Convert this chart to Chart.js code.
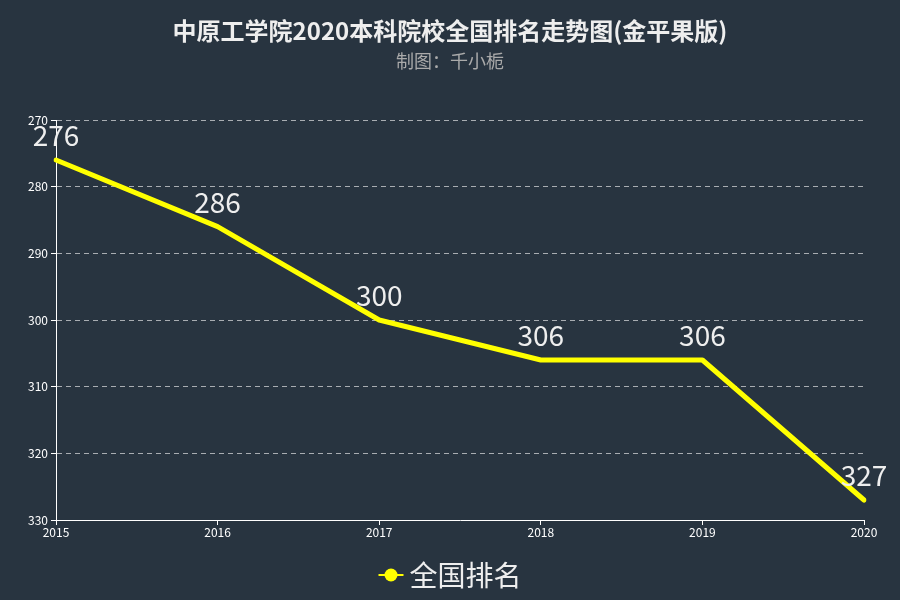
<!DOCTYPE html>
<html><head><meta charset="utf-8">
<script src="https://cdn.jsdelivr.net/npm/chart.js@4/dist/chart.umd.min.js"></script>
<style>html,body{margin:0;padding:0;background:#283440;}#wrap{width:900px;height:600px;}</style>
</head><body><div id="wrap"><canvas id="c" width="900" height="600"></canvas></div>
<script>
const titleText = '中原工学院2020本科院校全国排名走势图(金平果版)';
const subtitleText = '制图：千小栀';
const seriesName = '全国排名';
const years = ['2015','2016','2017','2018','2019','2020'];
const ranks = [276, 286, 300, 306, 306, 327];
const yMin = 270, yMax = 330, yStep = 10;

const FONT = '"Noto Sans CJK SC", "Noto Sans", sans-serif';
const BG = '#283440';
const YELLOW = '#ffff00';

const deco = {
  id: 'deco',
  beforeDraw(chart) {
    const ctx = chart.ctx;
    ctx.save();
    ctx.fillStyle = BG;
    ctx.fillRect(0, 0, chart.width, chart.height);
    ctx.restore();
  },
  afterDatasetsDraw(chart) {
    const ctx = chart.ctx;
    const meta = chart.getDatasetMeta(0);
    ctx.save();
    ctx.font = '28px ' + FONT;
    ctx.fillStyle = '#eeeeee';
    ctx.textAlign = 'center';
    ctx.textBaseline = 'alphabetic';
    meta.data.forEach((pt, i) => {
      ctx.fillText(String(chart.data.datasets[0].data[i]), pt.x, pt.y - 14);
    });
    ctx.restore();
  },
  afterDraw(chart) {
    const ctx = chart.ctx;
    ctx.save();
    ctx.textAlign = 'center';
    ctx.textBaseline = 'middle';
    ctx.fillStyle = '#eeeeee';
    ctx.font = 'bold 24px ' + FONT;
    ctx.fillText(titleText, 450, 31);
    ctx.fillStyle = '#aaaaaa';
    ctx.font = '18px ' + FONT;
    ctx.fillText(subtitleText, 450, 61);
    // legend
    ctx.font = '28px ' + FONT;
    const tw = ctx.measureText(seriesName).width;
    const iconW = 25, gap = 6;
    const total = iconW + gap + tw;
    const x0 = 450 - total / 2;
    const yc = 575;
    ctx.strokeStyle = YELLOW;
    ctx.lineWidth = 2;
    ctx.beginPath(); ctx.moveTo(x0, yc); ctx.lineTo(x0 + iconW, yc); ctx.stroke();
    ctx.fillStyle = YELLOW;
    ctx.beginPath(); ctx.arc(x0 + iconW / 2, yc, 6.5, 0, Math.PI * 2); ctx.fill();
    ctx.fillStyle = '#eeeeee';
    ctx.textAlign = 'left';
    ctx.fillText(seriesName, x0 + iconW + gap, yc);
    ctx.restore();
  }
};

new Chart(document.getElementById('c'), {
  type: 'line',
  data: {
    labels: years,
    datasets: [{
      label: seriesName,
      data: ranks,
      borderColor: YELLOW,
      backgroundColor: YELLOW,
      borderWidth: 5,
      pointRadius: 0,
      pointHoverRadius: 0,
      tension: 0,
      borderCapStyle: 'round',
      borderJoinStyle: 'round',
      fill: false
    }]
  },
  options: {
    responsive: false,
    animation: false,
    layout: { padding: { top: 120, right: 36, bottom: 60, left: 0 } },
    plugins: { legend: { display: false }, title: { display: false }, tooltip: { enabled: false } },
    scales: {
      x: {
        type: 'category',
        offset: false,
        afterFit(s) { s.height = 20; },
        grid: { display: true, drawOnChartArea: false, drawTicks: true, tickLength: 5, tickColor: '#ffffff', color: '#ffffff' },
        border: { display: true, color: '#ffffff', width: 1 },
        ticks: { color: '#ffffff', font: { size: 12, family: FONT }, padding: 0, maxRotation: 0, autoSkip: false }
      },
      y: {
        reverse: true,
        min: yMin, max: yMax,
        afterFit(s) { s.width = 56; },
        ticks: { stepSize: yStep, color: '#ffffff', font: { size: 12, family: FONT }, padding: 3 },
        grid: { color: 'rgba(255,255,255,0.6)', tickLength: 5, tickColor: '#ffffff', tickBorderDash: [0, 0], drawTicks: true },
        border: { display: true, color: '#ffffff', width: 1, dash: [5, 4] }
      }
    }
  },
  plugins: [deco]
});
</script>
</body></html>
